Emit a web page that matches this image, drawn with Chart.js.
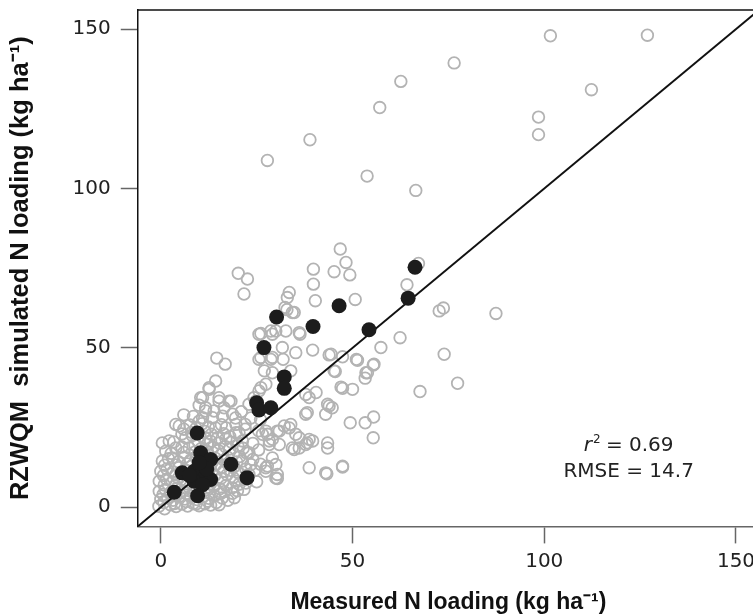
<!DOCTYPE html>
<html lang="en">
<head>
<meta charset="UTF-8">
<title>RZWQM simulated vs measured N loading</title>
<script src="https://cdn.jsdelivr.net/npm/chart.js@4.4.0/dist/chart.umd.min.js"></script>
<style>
  body { margin: 0; overflow: hidden; background: #fff; }
  #wrap { width: 760px; height: 616px; }
</style>
</head>
<body>
<div id="wrap"><canvas id="chart" width="760" height="616"></canvas></div>
<script>
// axis ticks (same on both axes)
const xTicks = [0, 50, 100, 150];
const yTicks = [0, 50, 100, 150];
// 1:1 line end points
const oneToOne = [-6, 156];

// all site-years, open grey circles: [measured, simulated]
const openPoints = [
  // high values
  [101.6,147.9],[126.9,148.1],[76.5,139.4],[62.6,133.6],[57.1,125.4],[112.3,131.0],
  [98.5,122.4],[98.5,116.9],[53.8,103.9],[66.5,99.4],[27.8,108.8],[38.9,115.3],
  // middle / right
  [46.8,81.0],[48.3,76.8],[45.2,73.9],[49.3,72.9],[50.7,65.2],[67.2,76.5],[64.2,69.8],
  [72.6,61.6],[73.7,62.5],[87.4,60.8],[62.4,53.2],[57.4,50.1],[73.9,48.0],[77.4,38.9],
  [67.6,36.3],[51.3,46.1],[47.4,47.2],[44.4,48.0],[45.5,42.6],[55.4,44.6],[53.9,42.2],
  [53.3,40.5],[47.4,37.3],[50.0,37.0],
  [38.7,34.4],[43.9,31.8],[43.0,29.2],[38.2,29.7],[49.4,26.5],[53.3,26.5],[55.5,28.3],
  [55.4,21.8],[43.5,20.2],[43.5,18.6],[39.6,20.8],[37.8,19.7],[36.1,18.6],[34.8,18.1],
  [30.9,19.7],[28.3,20.8],[27.4,23.9],[30.4,23.9],[33.9,26.0],[35.2,22.9],[47.4,12.6],
  [43.3,10.5],[30.0,13.4],[27.4,11.3],[30.4,9.0],
  [39.8,74.7],[39.8,70.0],[40.3,64.8],[33.5,67.4],[33.0,65.8],[32.4,62.7],[34.8,61.1],
  [30.0,55.3],[36.3,54.3],[39.6,49.3],[43.9,47.8],[35.2,48.5],[31.9,46.4],[29.1,47.0],
  [33.9,42.8],[45.2,42.8],[51.0,46.4],[55.6,44.9],[53.5,42.2],[47.0,37.7],[37.8,35.4],
  [40.5,36.0],
  [20.2,73.4],[22.6,71.6],[21.7,66.9],[26.1,54.5],[28.7,55.3],[26.1,47.0],[28.7,46.4],
  [29.1,42.2],[14.6,46.8],[16.8,44.9],[14.3,39.6],[12.6,37.5],[10.9,34.4],[15.2,34.4],
  [18.3,33.3],[26.1,37.5],[24.3,34.4],
  [23.0,32.3],[24.8,33.3],[25.6,36.5],[27.4,38.6],[27.0,42.8],[25.6,46.4],[29.1,54.3],
  [25.6,54.3],[32.6,55.3],[31.7,50.1],[34.3,61.1],[32.9,62.0],[36.1,54.8],[30.9,23.9],
  [33.5,24.9],[36.1,21.8],[38.7,21.3],[43.5,32.3],[27.8,22.9],[28.3,19.7],[34.3,18.6],
  [29.1,15.5],[27.4,12.4],[30.4,10.3],[43.0,10.8],[38.7,12.4],
  [26.5,22.9],[29.1,21.3],[32.2,25.5],[38.2,20.2],[44.7,31.2],[27.8,12.9],[30.0,9.2],
  [47.4,12.9],[37.8,29.2],[21.7,5.6],[23.0,10.3],
  [24.0,20.0],[25.5,24.0],[22.0,26.0],[23.5,28.0],[26.0,27.5],[21.0,30.0],[24.0,15.0],
  [25.5,18.0],[26.0,13.5],[24.5,11.5],[25.0,8.0],[19.5,28.0],[22.0,24.5],
  // dense cluster near the origin
  [-0.5,0.3],[1.0,-0.5],[2.5,0.8],[4.0,0.2],[5.5,1.0],[7.0,0.4],[8.5,1.2],[10.0,0.5],
  [11.5,1.1],[13.0,0.7],[14.5,1.5],[16.0,2.9],[17.5,2.2],
  [0.0,2.5],[1.8,3.0],[3.2,2.2],[4.8,3.4],[6.3,2.6],[7.8,3.5],[9.4,2.4],[11.0,3.3],
  [12.5,2.8],[14.0,3.6],[15.5,4.2],[18.7,4.4],[20.0,5.2],
  [-0.4,5.0],[1.2,5.6],[2.7,4.8],[4.2,6.0],[5.8,5.2],[7.4,6.2],[9.0,5.3],[10.6,6.4],
  [12.2,5.5],[13.8,6.5],[15.4,5.8],[17.0,6.8],[18.6,6.1],[20.4,7.2],[22.2,7.6],
  [-0.4,8.2],[1.5,8.8],[3.0,7.9],[4.6,9.1],[6.2,8.3],[7.7,9.5],[9.3,8.6],[10.9,9.8],
  [12.5,8.9],[14.1,10.0],[15.7,9.1],[17.3,10.2],[18.9,9.3],[20.5,10.6],[21.8,8.6],
  [0.0,11.3],[1.6,12.0],[3.1,11.0],[4.7,12.4],[6.3,11.6],[7.9,12.8],[9.5,11.8],[11.1,13.0],
  [12.7,12.1],[14.3,13.3],[15.9,12.4],[17.5,13.6],[19.1,12.7],[20.0,11.0],[21.3,14.5],[23.5,13.4],
  [0.4,14.5],[2.0,15.2],[3.0,15.5],[4.6,14.3],[6.2,15.7],[7.8,14.8],[9.4,16.0],[11.0,15.1],
  [12.6,16.3],[14.2,15.4],[15.8,16.6],[17.4,15.7],[19.0,16.9],[20.6,15.9],[22.4,17.0],[23.0,17.1],
  [1.3,17.6],[3.9,18.6],[5.5,18.9],[7.4,18.6],[8.9,19.5],[10.5,18.4],[12.1,19.8],[13.7,18.8],
  [15.3,20.1],[16.9,19.0],[18.5,20.4],[20.1,19.3],[21.3,20.8],
  [0.4,20.2],[2.2,20.8],[6.5,21.8],[8.2,22.5],[11.6,21.7],[13.2,22.9],[14.8,21.8],[16.4,23.1],
  [18.0,22.2],[19.6,23.4],[20.4,23.4],
  [4.8,25.5],[3.9,26.0],[6.0,24.5],[7.6,25.8],[9.2,24.8],[10.8,26.2],[12.4,25.2],[14.3,24.9],
  [17.0,24.9],[19.6,26.0],
  [6.0,29.0],[8.5,28.5],[10.0,27.0],[10.9,28.1],[13.5,28.1],[16.1,28.6],[18.7,29.2],[11.7,30.2],
  [13.9,30.2],[11.7,31.2],[16.5,31.2],
  [10.0,32.0],[10.4,34.4],[15.2,33.3],[17.8,33.3],[12.6,37.0],
  [0.8,1.5],[3.6,1.2],[6.6,1.8],[9.2,1.0],[12.2,1.9],[15.2,0.8],
  [0.6,4.0],[3.5,3.8],[6.8,4.4],[9.8,4.0],[12.8,4.6],[16.5,4.9],[19.2,3.0],
  [0.9,7.0],[3.8,6.9],[6.9,7.3],[9.9,7.2],[13.0,7.4],[16.2,7.8],[19.5,8.2],
  [0.7,10.0],[3.9,10.2],[6.9,10.3],[10.0,10.5],[13.3,10.9],[16.4,11.3],[18.2,11.6],[22.2,12.0],
  [1.0,13.2],[3.9,13.3],[6.9,13.6],[10.2,13.4],[13.4,14.2],[16.6,14.6],[19.8,14.2],
  [2.7,16.9],[6.0,17.2],[9.0,17.4],[12.0,17.6],[15.0,17.8],[18.0,18.3],[21.5,18.5],
  [3.4,20.5],[9.8,20.6],[13.0,20.7],[17.0,21.5],
  [5.5,23.0],[8.0,23.5],[11.5,23.8],[15.8,25.9]
];

// highlighted site, filled black circles: [measured, simulated]
const filledPoints = [
  [26.9,50.1],[30.2,59.7],[39.7,56.7],[46.5,63.2],[54.3,55.7],[64.5,65.6],[66.3,75.3],
  [32.2,40.9],[32.2,37.3],[25.0,32.8],[25.6,30.5],[28.7,31.2],[9.5,23.3],[10.4,17.1],
  [13.0,15.0],[18.3,13.5],[22.5,9.3],[5.6,10.8],[8.7,11.3],[11.7,9.7],[8.7,8.2],
  [13.0,8.7],[10.9,7.1],[3.5,4.7],[9.6,3.6],[7.5,10.0],[12.0,12.0],[10.0,14.0]
];

const statsLines = ['= 0.69', 'RMSE = 14.7'];

const tickFont = { family: 'DejaVu Sans', size: 20 };
const xTitleFont = { family: 'Liberation Sans', size: 23, weight: 'bold' };
const yTitleFont = { family: 'Liberation Sans', size: 25.5, weight: 'bold' };

// top frame line and the r2 / RMSE note
const framePlugin = {
  id: 'frame',
  afterDraw(chart) {
    const { ctx, chartArea: a, scales } = chart;
    ctx.save();
    ctx.strokeStyle = '#111';
    ctx.lineWidth = 1.5;
    ctx.beginPath();
    ctx.moveTo(a.left, a.top);
    ctx.lineTo(a.right, a.top);
    ctx.lineTo(a.right, a.bottom);
    ctx.stroke();

    const cx = scales.x.getPixelForValue(122);
    const y1 = scales.y.getPixelForValue(17.6);
    const y2 = scales.y.getPixelForValue(9.4);
    ctx.fillStyle = '#222';
    ctx.textBaseline = 'alphabetic';
    // first line: italic r, superscript 2, then value
    ctx.font = 'italic 20px "DejaVu Sans"';
    const rW = ctx.measureText('r').width;
    ctx.font = '12px "DejaVu Sans"';
    const sW = ctx.measureText('2').width;
    ctx.font = '20px "DejaVu Sans"';
    const vW = ctx.measureText(' ' + statsLines[0]).width;
    let x = cx - (rW + sW + vW) / 2;
    ctx.textAlign = 'left';
    ctx.font = 'italic 20px "DejaVu Sans"';
    ctx.fillText('r', x, y1);
    ctx.font = '12px "DejaVu Sans"';
    ctx.fillText('2', x + rW + 1, y1 - 8);
    ctx.font = '20px "DejaVu Sans"';
    ctx.fillText(' ' + statsLines[0], x + rW + sW, y1);
    ctx.textAlign = 'center';
    ctx.fillText(statsLines[1], cx, y2);
    ctx.restore();
  }
};

const ctx = document.getElementById('chart').getContext('2d');
const myChart = new Chart(ctx, {
  type: 'scatter',
  data: {
    datasets: [
      {
        label: 'filled',
        data: filledPoints.map(p => ({ x: p[0], y: p[1] })),
        pointRadius: 7.5,
        backgroundColor: '#1c1c1c',
        borderColor: '#1c1c1c',
        borderWidth: 0,
        order: 0
      },
      {
        label: '1:1',
        data: oneToOne.map(v => ({ x: v, y: v })),
        showLine: true,
        borderColor: '#111',
        borderWidth: 2,
        pointRadius: 0,
        order: 1
      },
      {
        label: 'open',
        data: openPoints.map(p => ({ x: p[0], y: p[1] })),
        pointRadius: 5.8,
        backgroundColor: 'rgba(0,0,0,0)',
        borderColor: '#b3b3b3',
        borderWidth: 1.8,
        order: 2
      }
    ]
  },
  options: {
    responsive: false,
    animation: false,
    layout: { autoPadding: false, padding: { left: 0, top: 10, right: 1, bottom: 0 } },
    plugins: { legend: { display: false }, tooltip: { enabled: false } },
    scales: {
      x: {
        type: 'linear',
        min: -6,
        max: 156,
        afterBuildTicks: s => { s.ticks = xTicks.map(v => ({ value: v })); },
        // labels sit inside the axis span, no extra side padding needed
        afterFit: s => { s.paddingLeft = 0; s.paddingRight = 0; },
        grid: { drawOnChartArea: false, drawTicks: true, tickLength: 17, tickColor: '#666', tickWidth: 1.5 },
        border: { color: '#666', width: 1.5 },
        ticks: { font: tickFont, color: '#222', padding: 6, maxRotation: 0 },
        title: {
          display: true,
          text: 'Measured N loading (kg ha⁻¹)',
          font: xTitleFont,
          color: '#111',
          padding: { top: 9, bottom: 0 }
        }
      },
      y: {
        type: 'linear',
        min: -6,
        max: 156,
        afterBuildTicks: s => { s.ticks = yTicks.map(v => ({ value: v })); },
        afterFit: s => { s.paddingTop = 0; s.paddingBottom = 0; },
        grid: { drawOnChartArea: false, drawTicks: true, tickLength: 17, tickColor: '#666', tickWidth: 1.5 },
        border: { color: '#111', width: 1.5 },
        ticks: { font: tickFont, color: '#222', padding: 10 },
        title: {
          display: true,
          text: 'RZWQM  simulated N loading (kg ha⁻¹)',
          font: yTitleFont,
          color: '#111',
          padding: { top: 5.7, bottom: 26.3 }
        }
      }
    }
  },
  plugins: [framePlugin]
});
</script>
</body>
</html>
